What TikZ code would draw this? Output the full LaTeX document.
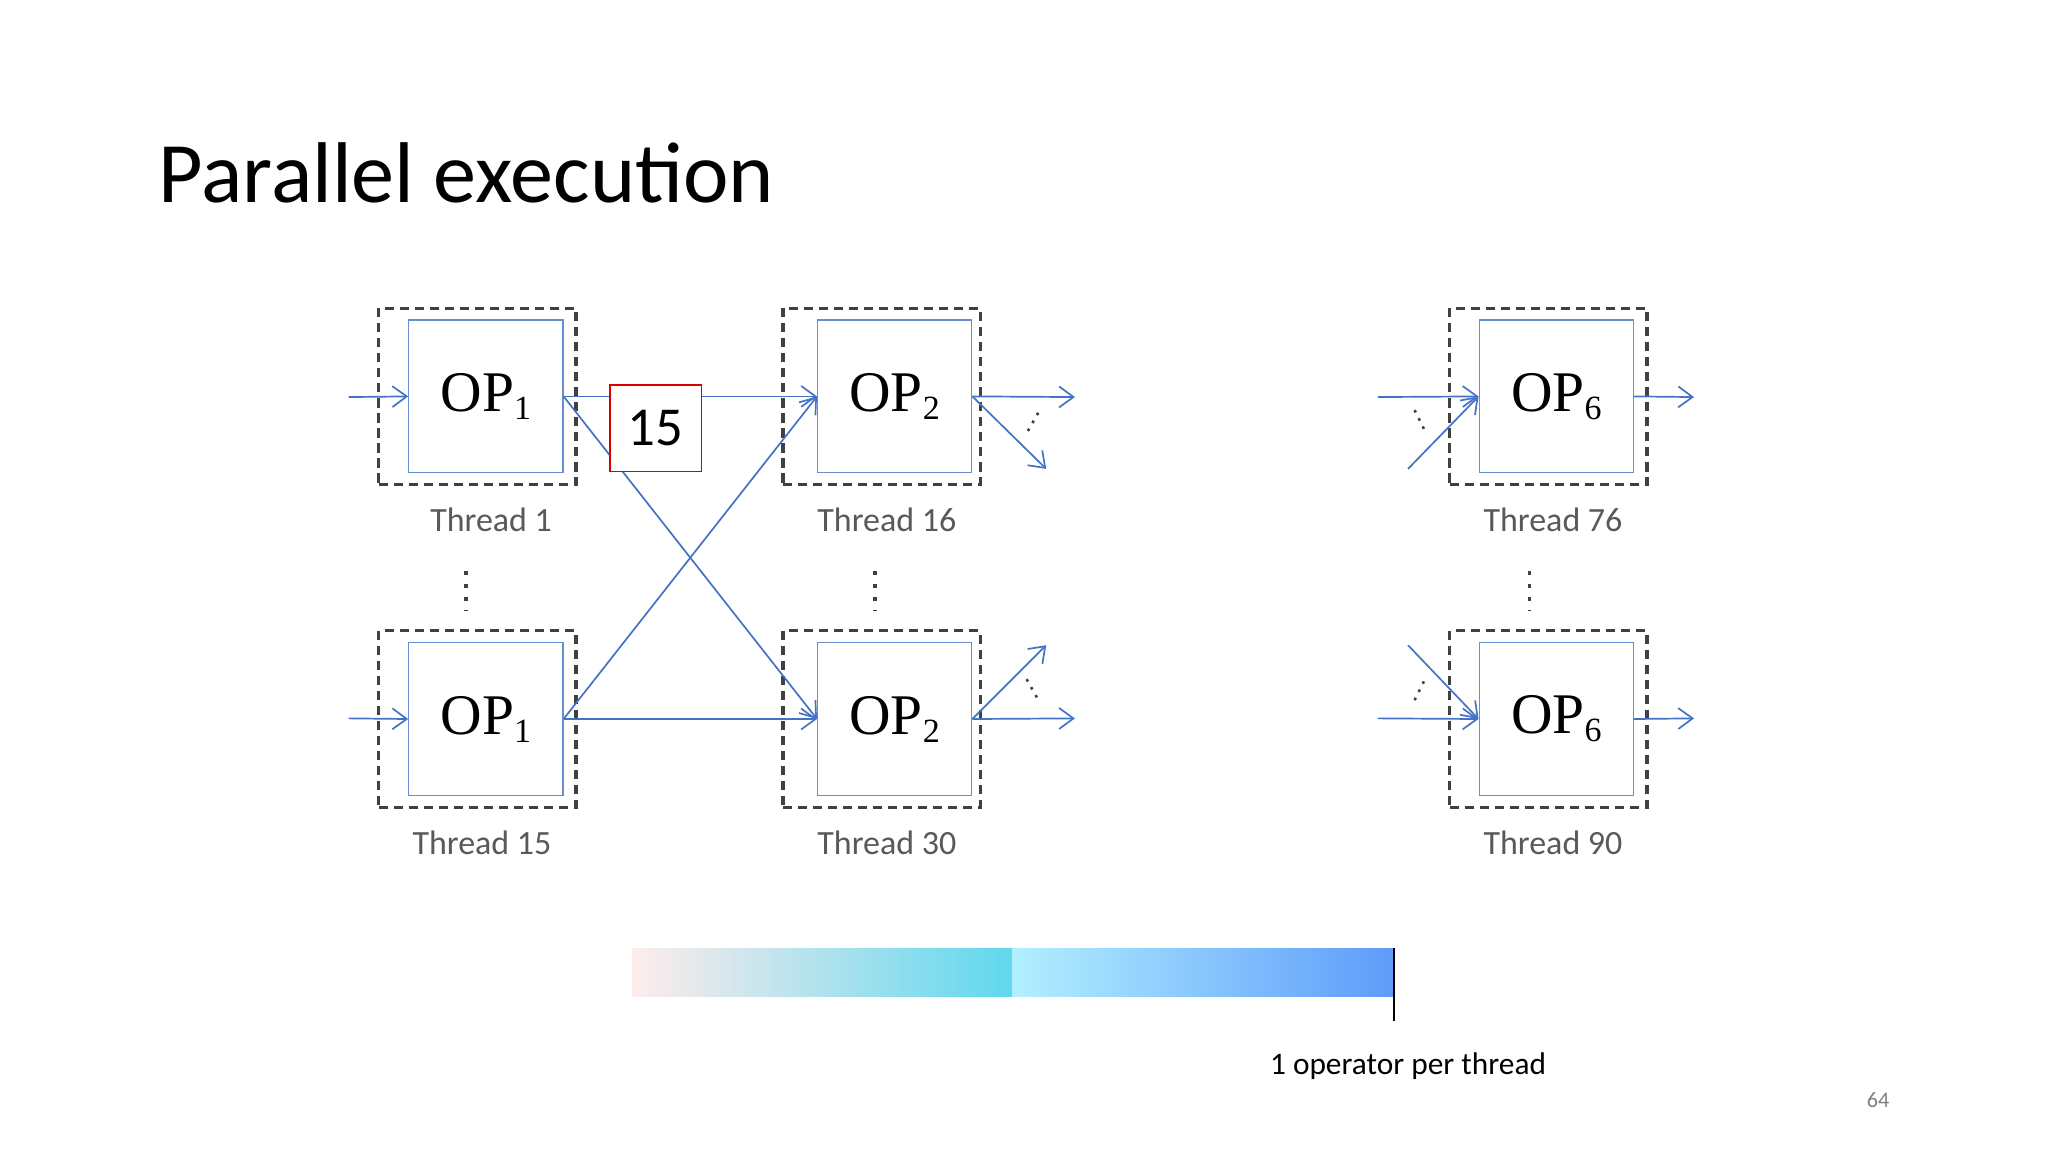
\documentclass[tikz,border=0pt]{standalone}
\usepackage{fontspec}
\setmainfont{Carlito}
\newfontfamily\opfont{Liberation Serif}
\usetikzlibrary{arrows.meta}
\definecolor{ablue}{HTML}{4472C4}
\definecolor{dgray}{HTML}{404040}
\definecolor{lgray}{HTML}{595959}
\tikzset{
 dbox/.style={draw=dgray,line width=2.4pt,dash pattern=on 7pt off 4.5pt,minimum width=151pt,minimum height=135pt,inner sep=0},
 opbox/.style={draw=ablue!80,line width=1pt,fill=white,minimum width=118pt,minimum height=117pt,inner sep=0,font=\opfont\fontsize{44}{44}\selectfont},
 thr/.style={text=lgray,font=\fontsize{26}{26}\selectfont},
 conn/.style={ablue,line width=1.3pt,-{Straight Barb[length=11pt,width=16pt,line width=1.3pt]}},
 vdots/.style={dgray,line width=3pt,dash pattern=on 3pt off 7pt},
 sdots/.style={dgray,line width=2pt,dash pattern=on 2pt off 5pt}
}
\newcommand{\opl}[1]{OP\raisebox{-0.3ex}{\fontsize{26}{26}\selectfont #1}}
\begin{document}
\begin{tikzpicture}[x=1pt,y=-1pt]
\useasboundingbox[fill=white] (0,0) rectangle (1568,882);
\node[anchor=base west,font=\fontsize{66}{66}\selectfont] (title) at (118,155) {Parallel execution};
% dashed boxes
\node[dbox] (d1) at (365.5,303.5) {};
\node[dbox] (d15) at (365.5,550.5) {};
\node[dbox] (d16) at (675,303.5) {};
\node[dbox] (d30) at (675,550.5) {};
\node[dbox] (d76) at (1185.5,303.5) {};
\node[dbox] (d90) at (1185.5,550.5) {};
% op boxes
\node[opbox] (o1) at (372,303.5) {\opl{1}};
\node[opbox] (o15) at (372,550.5) {\opl{1}};
\node[opbox] (o16) at (685,303.5) {\opl{2}};
\node[opbox] (o30) at (685,550.5) {\opl{2}};
\node[opbox] (o76) at (1191.5,303.5) {\opl{6}};
\node[opbox] (o90) at (1191.5,550.5) {\opl{6}};
% labels
\node[thr] (t1) at (376,398) {Thread 1};
\node[thr] (t15) at (369,645) {Thread 15};
\node[thr] (t16) at (679,398) {Thread 16};
\node[thr] (t30) at (679,645) {Thread 30};
\node[thr] (t76) at (1189,398) {Thread 76};
\node[thr] (t90) at (1189,645) {Thread 90};
% vertical dots
\draw[vdots] (357,437) -- (357,468);
\draw[vdots] (670,437) -- (670,468);
\draw[vdots] (1171,437) -- (1171,468);
% inputs
\coordinate (i1) at (267,304); \coordinate (i15) at (267,550);
\draw[conn] (i1) -- (o1.west);
\draw[conn] (i15) -- (o15.west);
% cross connections
\draw[conn] (o1.east) -- (o16.west);
\draw[conn] (o1.east) -- (o30.west);
\draw[conn] (o15.east) -- (o16.west);
\draw[conn] (o15.east) -- (o30.west);
\node[draw=red!85!black,line width=1.3pt,fill=white,minimum width=70pt,minimum height=66pt,font=\fontsize{42}{42}\selectfont] (n15) at (502,328) {15};
% outputs of OP2
\coordinate (a1) at (823,304); \coordinate (a2) at (801,359);
\coordinate (b1) at (823,550); \coordinate (b2) at (801,494);
\draw[conn] (o16.east) -- (a1);
\draw[conn] (o16.east) -- (a2);
\draw[conn] (o30.east) -- (b1);
\draw[conn] (o30.east) -- (b2);
\draw[sdots] (787,330) -- (796,314);
\draw[sdots] (786,520) -- (795,536);
% OP6
\coordinate (c1) at (1055,304); \coordinate (c2) at (1078,359);
\coordinate (e1) at (1055,550); \coordinate (e2) at (1078,494);
\coordinate (f1) at (1297,304); \coordinate (f2) at (1297,550);
\draw[conn] (c1) -- (o76.west);
\draw[conn] (c2) -- (o76.west);
\draw[conn] (e1) -- (o90.west);
\draw[conn] (e2) -- (o90.west);
\draw[conn] (o76.east) -- (f1);
\draw[conn] (o90.east) -- (f2);
\draw[sdots] (1083,314) -- (1091,330);
\draw[sdots] (1083,536) -- (1091,520);
% gradient bar
\shade[left color=pink!30!white,middle color=blue!20!cyan!30!white,right color=ablue!40!cyan!70!white] (484,726) rectangle (775,763);
\shade[left color=blue!20!cyan!30!white,right color={rgb,255:red,94;green,155;blue,250}] (775,726) rectangle (1067,763);
\coordinate (m1) at (1067,726); \coordinate (m2) at (1067,782);
\draw[black,line width=1.5pt] (m1) -- (m2);
\node[font=\fontsize{24}{24}\selectfont] (lab) at (1078,816) {1 operator per thread};
\node[text=gray,font=\fontsize{17}{17}\selectfont] (pg) at (1438,842) {64};
\end{tikzpicture}
\end{document}
